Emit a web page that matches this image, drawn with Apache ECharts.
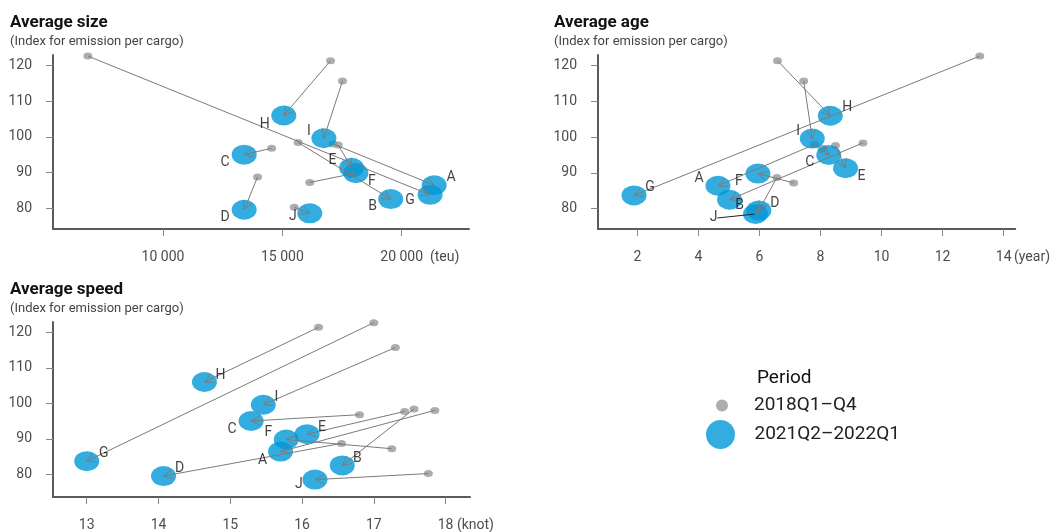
<!DOCTYPE html>
<html>
<head>
<meta charset="utf-8">
<script src="https://cdn.jsdelivr.net/npm/echarts@6/dist/echarts.min.js"></script>
<style>
	html, body { margin: 0; padding: 0; background: #fff; }
	#chart { width: 1053px; height: 532px; }
</style>
</head>
<body>
<div id="chart"></div>
<script>
/* 数据 */
var letters = ['A', 'B', 'C', 'D', 'E', 'F', 'G', 'H', 'I', 'J'];
var index2018 = [98.0, 98.4, 96.8, 88.7, 97.7, 87.2, 122.7, 121.4, 115.7, 80.2];
var index2021 = [86.4, 82.5, 95.0, 79.5, 91.3, 89.8, 83.7, 106.0, 99.6, 78.5];

var size2018 = [17130, 15660, 14550, 13960, 17340, 16150, 6850, 17020, 17520, 15500];
var size2021 = [21360, 19540, 13400, 13400, 17900, 18080, 21190, 15060, 16740, 16150];

var age2018 = [7.81, 9.39, 8.05, 6.57, 8.49, 7.12, 13.22, 6.59, 7.45, 6.06];
var age2021 = [4.64, 5.02, 8.27, 5.98, 8.82, 5.95, 1.89, 8.32, 7.73, 5.87];

var speed2018 = [17.85, 17.56, 16.80, 16.55, 17.43, 17.25, 17.00, 16.23, 17.30, 17.76];
var speed2021 = [15.70, 16.56, 15.29, 14.07, 16.07, 15.78, 13.00, 14.64, 15.46, 16.18];

var yTicks = [80, 90, 100, 110, 120];
var sizeTicks = [10000, 15000, 20000];
var ageTicks = [2, 4, 6, 8, 10, 12, 14];
var speedTicks = [13, 14, 15, 16, 17, 18];

var periods = ['2018Q1–Q4', '2021Q2–2022Q1'];

/* 标签偏移 (px) */
var sizeLabelOff = [[17, -8], [-18, 7], [-19, 8], [-19, 8], [-19, -7], [16, 8], [-20, 6], [-19, 9], [-15, -7], [-17, 3]];
var ageLabelOff = [[-19, -7], [10, 6], [-19, 7], [16, -7], [16, 8], [-19, 8], [16, -8], [17, -8], [-14, -7], [-42, 4]];
var speedLabelOff = [[-18, 9], [15, -7], [-19, 8], [16, -8], [15, -7], [-18, -7], [17, -8], [16, -6], [13, -7], [-16, 5]];

var ELLIPSE = 'path://M0,50 A50,50 0 1,1 100,50 A50,50 0 1,1 0,50 Z';
var FONT = 'Roboto';
var AXIS_COLOR = '#5a5a5a';
var TEXT_COLOR = '#4d4d4d';
var ARROW_COLOR = '#7a7a7a';

var chart = echarts.init(document.getElementById('chart'));

function thousands(v){
	var s = String(v);
	return s.length > 3 ? s.slice(0, s.length - 3) + ' ' + s.slice(s.length - 3) : s;
}

/* x轴 */
function makeXAxis(idx, min, max, ticks, unit, unitW, gap, fmt){
	var last = ticks[ticks.length - 1];
	return {
		gridIndex : idx,
		type : 'value',
		min : min,
		max : max,
		splitLine : { show : false },
		axisLine : { show : true, onZero : false, lineStyle : { color : AXIS_COLOR, width : 2 } },
		axisTick : { show : true, length : 7, customValues : ticks, lineStyle : { color : '#888', width : 1 } },
		axisLabel : {
			customValues : ticks,
			margin : 21,
			color : TEXT_COLOR,
			fontFamily : FONT,
			fontSize : 14,
			formatter : function(v){
				var s = fmt(v);
				if (v === last) {
					return '{p|}{v|' + s + '}{u|' + unit + '}';
				}
				return s;
			},
			rich : {
				p : { width : unitW + gap },
				v : { color : TEXT_COLOR, fontFamily : FONT, fontSize : 14 },
				u : { width : unitW, padding : [0, 0, 0, gap], color : TEXT_COLOR, fontFamily : FONT, fontSize : 14 }
			}
		}
	};
}

/* y轴 */
function makeYAxis(idx, min, max){
	return {
		gridIndex : idx,
		type : 'value',
		min : min,
		max : max,
		splitLine : { show : false },
		axisLine : { show : true, onZero : false, lineStyle : { color : AXIS_COLOR, width : 2 } },
		axisTick : { show : true, length : 7, customValues : yTicks, lineStyle : { color : '#888', width : 1 } },
		axisLabel : { customValues : yTicks, margin : 21, color : TEXT_COLOR, fontFamily : FONT, fontSize : 14 }
	};
}

/* 箭头 */
function renderArrow(params, api){
	var p0 = api.coord([api.value(0), api.value(1)]);
	var p1 = api.coord([api.value(2), api.value(3)]);
	var ang = Math.atan2(p1[1] - p0[1], p1[0] - p0[0]);
	var len = 10, spread = Math.PI / 6.5;
	var w1 = [p1[0] - len * Math.cos(ang - spread), p1[1] - len * Math.sin(ang - spread)];
	var w2 = [p1[0] - len * Math.cos(ang + spread), p1[1] - len * Math.sin(ang + spread)];
	return {
		type : 'group',
		children : [
			{ type : 'line', shape : { x1 : p0[0], y1 : p0[1], x2 : p1[0], y2 : p1[1] }, style : { stroke : ARROW_COLOR, lineWidth : 1 } },
			{ type : 'polyline', shape : { points : [w1, p1, w2] }, style : { stroke : ARROW_COLOR, lineWidth : 1, fill : null } }
		]
	};
}

function panelSeries(idx, xs18, xs21, offs, leaderIdx){
	var gray = [], blue = [], arrows = [], lbl = [];
	for (var i = 0; i < letters.length; i++) {
		gray.push([xs18[i], index2018[i]]);
		blue.push([xs21[i], index2021[i]]);
		arrows.push([xs18[i], index2018[i], xs21[i], index2021[i]]);
		var item = { value : [xs21[i], index2021[i]], name : letters[i] };
		if (i === leaderIdx) {
			item.labelLine = { show : true, lineStyle : { color : '#222', width : 1 } };
		}
		lbl.push(item);
	}
	return [
		{
			name : periods[0], type : 'scatter', xAxisIndex : idx, yAxisIndex : idx,
			symbol : ELLIPSE, symbolSize : [9, 7], z : 2, silent : true,
			itemStyle : { color : '#999999', opacity : 0.8 },
			data : gray
		},
		{
			name : periods[1], type : 'scatter', xAxisIndex : idx, yAxisIndex : idx,
			symbol : ELLIPSE, symbolSize : [25, 20], z : 3, silent : true,
			itemStyle : { color : '#0099d8', opacity : 0.8 },
			data : blue
		},
		{
			name : 'arrow' + idx, type : 'custom', xAxisIndex : idx, yAxisIndex : idx,
			renderItem : renderArrow, clip : false, z : 4, silent : true,
			encode : { x : [0, 2], y : [1, 3] },
			data : arrows
		},
		{
			name : 'label' + idx, type : 'scatter', xAxisIndex : idx, yAxisIndex : idx,
			symbolSize : 2, z : 5, silent : true,
			itemStyle : { color : 'rgba(0,0,0,0)' },
			label : {
				show : true, position : 'inside', formatter : '{b}',
				color : '#111', fontFamily : FONT, fontSize : 14
			},
			labelLayout : function(p){
				var o = offs[p.dataIndex];
				return { dx : o[0], dy : o[1] };
			},
			labelLine : { show : false },
			data : lbl
		}
	];
}

var titleStyle = { color : '#111', fontFamily : FONT, fontSize : 17, fontWeight : 'bold' };
var subStyle = { color : '#444', fontFamily : FONT, fontSize : 13 };

var option = {
	animation : false,
	title : [
		{ text : 'Average size', subtext : '(Index for emission per cargo)', left : 10, top : 14, padding : 0, itemGap : 4, textStyle : titleStyle, subtextStyle : subStyle },
		{ text : 'Average age', subtext : '(Index for emission per cargo)', left : 554, top : 14, padding : 0, itemGap : 4, textStyle : titleStyle, subtextStyle : subStyle },
		{ text : 'Average speed', subtext : '(Index for emission per cargo)', left : 10, top : 281, padding : 0, itemGap : 4, textStyle : titleStyle, subtextStyle : subStyle },
		{ text : 'Period', left : 757, top : 369, padding : 0, textStyle : { color : '#111', fontFamily : FONT, fontSize : 19, fontWeight : 'normal' } }
	],
	legend : [
		{
			data : [periods[0]], left : 716, top : 396, padding : 0, selectedMode : false,
			icon : ELLIPSE, itemWidth : 16, itemHeight : 12,
			textStyle : { color : '#222', fontFamily : FONT, fontSize : 19, padding : [0, 0, 0, 19] }
		},
		{
			data : [periods[1]], left : 706, top : 420, padding : 0, selectedMode : false,
			icon : ELLIPSE, itemWidth : 36, itemHeight : 29,
			textStyle : { color : '#222', fontFamily : FONT, fontSize : 19, padding : [0, 0, 0, 11] }
		}
	],
	grid : [
		{ left : 53, top : 55, width : 416, height : 174 },
		{ left : 598, top : 55, width : 418, height : 174 },
		{ left : 53, top : 322, width : 417, height : 175 }
	],
	xAxis : [
		makeXAxis(0, 5390, 22820, sizeTicks, '(teu)', 27, 8, thousands),
		makeXAxis(1, 0.71, 14.38, ageTicks, '(year)', 33, 4, String),
		makeXAxis(2, 12.53, 18.34, speedTicks, '(knot)', 34, 5, String)
	],
	yAxis : [
		makeYAxis(0, 74.1, 123.0),
		makeYAxis(1, 74.3, 123.0),
		makeYAxis(2, 73.6, 122.9)
	],
	series : [].concat(
		panelSeries(0, size2018, size2021, sizeLabelOff, -1),
		panelSeries(1, age2018, age2021, ageLabelOff, 9),
		panelSeries(2, speed2018, speed2021, speedLabelOff, -1)
	)
};
chart.setOption(option);
</script>
</body>
</html>
